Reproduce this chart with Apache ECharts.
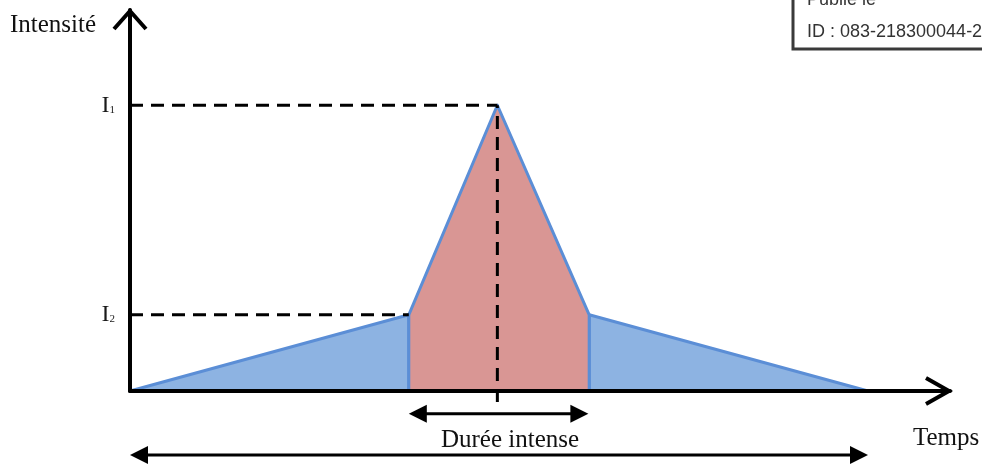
<!DOCTYPE html>
<html>
<head>
<meta charset="utf-8">
<script src="https://cdn.jsdelivr.net/npm/echarts@6/dist/echarts.min.js"></script>
<style>html,body{margin:0;padding:0;background:#fff;}#c{width:982px;height:468px;}</style>
</head>
<body>
<div id="c"></div>
<script>
// ---- data (time units on x, intensity units on y) ----
const blueLeft = [[0, 0], [34.0, 20], [34.0, 0]];
const redPeak = [[34.0, 0], [34.0, 20], [44.8, 75], [56.0, 20], [56.0, 0]];
const blueRight = [[56.0, 0], [56.0, 20], [90.0, 0]];
const levelValues = [20, 75];
const levelLabels = ['2', '1'];
const dashI1 = [[0, 75], [44.8, 75]];
const dashI2 = [[0, 20], [34.0, 20]];
const dashPeak = [[44.8, -2.9], [44.8, 75]];
const dureeArrow = [[34.0, -6.0], [55.9, -6.0]];
const totalArrow = [[0, -16.8], [90.0, -16.8]];

const SERIF = "'Liberation Serif','Times New Roman',serif";
const BLUE_FILL = '#8db3e2';
const RED_FILL = '#d99694';
const OUTLINE = '#5b8ed6';

function polygonSeries(points, fill, z) {
  return {
    type: 'custom', coordinateSystem: 'cartesian2d', z: z, silent: true,
    clip: false, data: [points[0]],
    renderItem: function (params, api) {
      return {
        type: 'polygon',
        shape: { points: points.map(p => api.coord(p)) },
        style: { fill: fill, stroke: OUTLINE, lineWidth: 3, lineJoin: 'round' }
      };
    }
  };
}

function dashedSeries(lines) {
  return {
    type: 'custom', coordinateSystem: 'cartesian2d', z: 6, silent: true,
    clip: false, data: [[0, 0]],
    renderItem: function (params, api) {
      return {
        type: 'group',
        children: lines.map(l => {
          const a = api.coord(l[0]), b = api.coord(l[1]);
          return {
            type: 'line',
            shape: { x1: a[0], y1: a[1], x2: b[0], y2: b[1] },
            style: { stroke: '#000', lineWidth: 3, lineDash: [13, 8] }
          };
        })
      };
    }
  };
}

function doubleArrowSeries(arrows) {
  const L = 18, H = 9;
  return {
    type: 'custom', coordinateSystem: 'cartesian2d', z: 6, silent: true,
    clip: false, data: [[0, 0]],
    renderItem: function (params, api) {
      const children = [];
      arrows.forEach(ar => {
        const a = api.coord(ar[0]), b = api.coord(ar[1]);
        children.push({ type: 'line', shape: { x1: a[0] + L - 2, y1: a[1], x2: b[0] - L + 2, y2: b[1] },
          style: { stroke: '#000', lineWidth: 3 } });
        children.push({ type: 'polygon', shape: { points: [[a[0], a[1]], [a[0] + L, a[1] - H], [a[0] + L, a[1] + H]] },
          style: { fill: '#000' } });
        children.push({ type: 'polygon', shape: { points: [[b[0], b[1]], [b[0] - L, b[1] - H], [b[0] - L, b[1] + H]] },
          style: { fill: '#000' } });
      });
      return { type: 'group', children: children };
    }
  };
}

const axisArrowSeries = {
  type: 'custom', coordinateSystem: 'cartesian2d', z: 8, silent: true,
  clip: false, data: [[0, 0]],
  renderItem: function (params, api) {
    const top = api.coord([0, 100]);
    const right = api.coord([100, 0]);
    return {
      type: 'group',
      children: [
        { type: 'polyline', shape: { points: [[top[0] - 16, top[1] + 19], [top[0], top[1] + 1], [top[0] + 16, top[1] + 19]] },
          style: { stroke: '#000', lineWidth: 4, fill: null, lineJoin: 'miter' } },
        { type: 'polyline', shape: { points: [[right[0] - 24, right[1] - 13], [right[0] - 1, right[1]], [right[0] - 24, right[1] + 13]] },
          style: { stroke: '#000', lineWidth: 4, fill: null, lineJoin: 'miter' } }
      ]
    };
  }
};

const chart = echarts.init(document.getElementById('c'), null, { renderer: 'canvas' });
chart.setOption({
  animation: false,
  backgroundColor: '#fff',
  grid: { left: 130, right: 32, top: 10, bottom: 77, containLabel: false },
  xAxis: {
    type: 'value', min: 0, max: 100, z: 5,
    axisLine: { show: true, lineStyle: { color: '#000', width: 4 } },
    axisTick: { show: false }, axisLabel: { show: false }, splitLine: { show: false }
  },
  yAxis: {
    type: 'value', min: 0, max: 100, z: 5,
    axisLine: { show: true, lineStyle: { color: '#000', width: 4 } },
    axisTick: { show: false }, splitLine: { show: false },
    axisLabel: {
      show: true, margin: 15, customValues: levelValues,
      formatter: function (v) {
        const i = levelValues.indexOf(v);
        return '{i|I}{s|' + levelLabels[i] + '}';
      },
      rich: {
        i: { fontFamily: SERIF, fontSize: 24, color: '#1a1a1a', verticalAlign: 'bottom' },
        s: { fontFamily: SERIF, fontSize: 11, color: '#1a1a1a', verticalAlign: 'bottom', padding: [0, 0, 2, 0] }
      }
    }
  },
  series: [
    polygonSeries(blueLeft, BLUE_FILL, 2),
    polygonSeries(blueRight, BLUE_FILL, 2),
    polygonSeries(redPeak, RED_FILL, 3),
    dashedSeries([dashI1, dashI2, dashPeak]),
    doubleArrowSeries([dureeArrow, totalArrow]),
    axisArrowSeries
  ],
  graphic: [
    { type: 'text', x: 10, y: 25, style: { text: 'Intensité', font: '25px ' + SERIF, fill: '#111', textVerticalAlign: 'middle' } },
    { type: 'text', x: 510, y: 440, style: { text: 'Durée intense', font: '25px ' + SERIF, fill: '#111', textAlign: 'center', textVerticalAlign: 'middle' } },
    { type: 'text', x: 913, y: 438, style: { text: 'Temps', font: '25px ' + SERIF, fill: '#111', textVerticalAlign: 'middle' } },
    { type: 'rect', shape: { x: 793, y: -10, width: 210, height: 59 }, style: { fill: '#fff', stroke: '#3a3a3a', lineWidth: 3 }, z: 20 },
    { type: 'text', x: 807, y: 0, style: { text: 'Publié le', font: '18px "Liberation Sans", Arial, sans-serif', fill: '#333', textVerticalAlign: 'middle' }, z: 21 },
    { type: 'text', x: 807, y: 32, style: { text: 'ID : 083-218300044-2', font: '18px "Liberation Sans", Arial, sans-serif', fill: '#333', textVerticalAlign: 'middle' }, z: 21 }
  ]
});
</script>
</body>
</html>
